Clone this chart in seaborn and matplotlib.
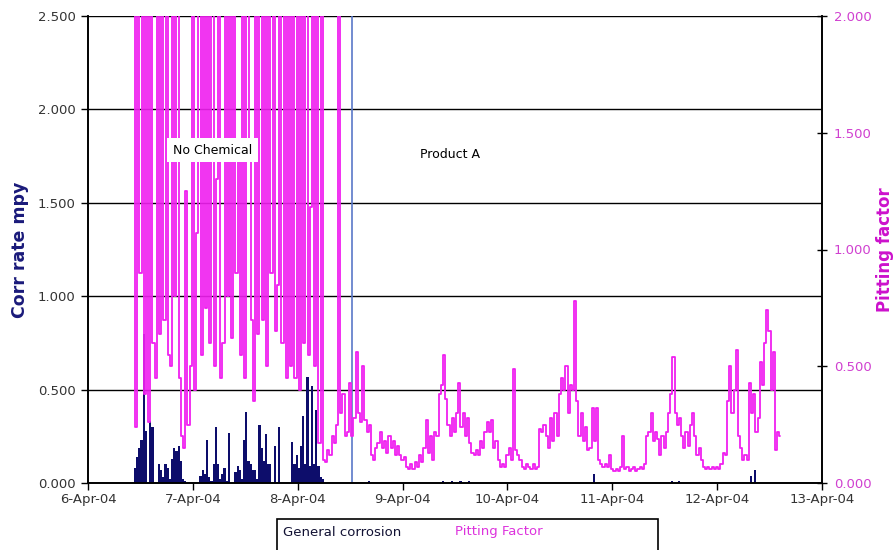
import pandas as pd
import seaborn as sns
import matplotlib.pyplot as plt
import matplotlib.dates as mdates
from matplotlib.patches import Rectangle

# Pitting factor, one reading every 30 min starting 6-Apr-04 10:30 (values > 2 run off the scale)
pit_apr6 = [2.6, 0.24, 2.6, 0.9, 2.6, 0.38, 2.6, 0.26, 2.6, 0.6, 0.45, 2.6, 0.64, 2.6,
            0.7, 2.6, 0.55, 0.5, 2.6, 0.8, 2.6, 0.45, 0.2, 0.15, 1.25, 0.25, 0.5]
pit_apr7 = [2.6, 0.4, 1.07, 2.6, 0.55, 2.6, 0.75, 2.6, 0.6, 2.6, 0.5, 1.3, 2.6, 0.45, 0.6, 2.6,
            0.8, 2.6, 0.62, 2.6, 0.9, 1.4, 0.55, 2.6, 0.45, 2.6, 1.47, 0.7, 0.35, 2.6, 0.64, 2.6,
            0.7, 2.6, 0.5, 2.6, 0.9, 2.6, 0.65, 0.85, 2.6, 0.6, 2.6, 0.45, 2.6, 0.5, 2.6, 0.45]
pit_apr8 = [2.6, 0.4, 2.6, 0.6, 2.6, 0.55, 1.18, 2.6, 0.5, 2.6, 0.17, 2.6, 0.1, 0.09, 0.14, 0.12,
            0.2, 0.17, 0.25, 2.6, 0.3, 0.38, 0.2, 0.22, 0.43, 0.2, 0.28, 0.56, 0.3, 0.26, 0.5, 0.27,
            0.22, 0.25, 0.12, 0.1, 0.15, 0.17, 0.22, 0.15, 0.18, 0.13, 0.2, 0.15, 0.18, 0.12, 0.16, 0.12]
pit_apr9 = [0.1, 0.11, 0.07, 0.06, 0.08, 0.06, 0.09, 0.07, 0.12, 0.09, 0.15, 0.27, 0.13, 0.2, 0.1, 0.22,
            0.2, 0.38, 0.42, 0.55, 0.36, 0.25, 0.2, 0.28, 0.22, 0.3, 0.43, 0.24, 0.3, 0.2, 0.28, 0.17,
            0.13, 0.12, 0.14, 0.12, 0.18, 0.15, 0.22, 0.26, 0.22, 0.27, 0.15, 0.18, 0.1, 0.07, 0.08, 0.07]
pit_apr10 = [0.12, 0.15, 0.1, 0.49, 0.14, 0.12, 0.1, 0.07, 0.06, 0.08, 0.07, 0.06, 0.08, 0.06, 0.07, 0.23,
             0.22, 0.25, 0.2, 0.15, 0.28, 0.18, 0.3, 0.2, 0.38, 0.45, 0.4, 0.5, 0.3, 0.42, 0.4, 0.78,
             0.35, 0.2, 0.3, 0.18, 0.24, 0.14, 0.15, 0.32, 0.18, 0.32, 0.1, 0.08, 0.07, 0.08, 0.07, 0.12]
pit_apr11 = [0.06, 0.05, 0.06, 0.05, 0.07, 0.2, 0.06, 0.07, 0.05, 0.06, 0.07, 0.05, 0.06, 0.07, 0.06, 0.08,
             0.2, 0.22, 0.3, 0.18, 0.22, 0.19, 0.12, 0.2, 0.15, 0.22, 0.3, 0.38, 0.54, 0.3, 0.25, 0.28,
             0.2, 0.15, 0.22, 0.16, 0.25, 0.3, 0.2, 0.12, 0.15, 0.1, 0.07, 0.06, 0.07, 0.06, 0.07, 0.06]
pit_apr12 = [0.07, 0.06, 0.08, 0.13, 0.12, 0.35, 0.5, 0.3, 0.4, 0.57, 0.2, 0.15, 0.1, 0.12, 0.1,
             0.43, 0.3, 0.38, 0.22, 0.28, 0.52, 0.42, 0.6, 0.74, 0.65, 0.4, 0.56, 0.14, 0.22, 0.2]

# General corrosion (mpy), same 30 min grid, only the untreated period has real readings
gc_apr6 = [0.08, 0.14, 0.19, 0.23, 0.8, 0.28, 0.0, 0.33, 0.3, 0.0, 0.0, 0.1, 0.07, 0.03,
           0.1, 0.08, 0.02, 0.13, 0.19, 0.17, 0.2, 0.12, 0.02, 0.01, 0.0, 0.0, 0.0]
gc_apr7 = [0.0, 0.0, 0.0, 0.04, 0.07, 0.05, 0.23, 0.03, 0.01, 0.1, 0.3, 0.1, 0.02, 0.05, 0.08, 0.01,
           0.27, 0.0, 0.0, 0.06, 0.09, 0.07, 0.02, 0.23, 0.38, 0.12, 0.1, 0.07, 0.07, 0.02, 0.31, 0.19,
           0.12, 0.26, 0.1, 0.1, 0.0, 0.2, 0.0, 0.3, 0.0, 0.0, 0.0, 0.0, 0.0, 0.22, 0.1, 0.15]
gc_apr8 = [0.08, 0.2, 0.36, 0.1, 0.57, 0.09, 0.52, 0.1, 0.39, 0.09, 0.03, 0.02]
gc_late_times = ['2004-04-08 16:00', '2004-04-09 09:00', '2004-04-09 11:00', '2004-04-09 13:00',
                 '2004-04-09 15:00', '2004-04-10 19:30', '2004-04-11 13:30', '2004-04-11 15:00',
                 '2004-04-12 07:30', '2004-04-12 08:30']
gc_late_vals = [0.01, 0.01, 0.01, 0.01, 0.01, 0.05, 0.01, 0.01, 0.04, 0.07]

pit_vals = pit_apr6 + pit_apr7 + pit_apr8 + pit_apr9 + pit_apr10 + pit_apr11 + pit_apr12
gc_vals = gc_apr6 + gc_apr7 + gc_apr8
start = pd.Timestamp('2004-04-06 10:30')
pit_times = pd.date_range(start, periods=len(pit_vals), freq='30min')
gc_times = pd.date_range(start, periods=len(gc_vals), freq='30min')

treatment_start = pd.Timestamp('2004-04-08 12:25')

navy = '#0d0d6b'
magenta = '#f020f0'

sns.set_style('white')
plt.rcParams['font.family'] = ['DejaVu Sans']

fig = plt.figure(figsize=(8.96, 5.5), dpi=100)
ax = fig.add_axes([88 / 896, 1 - 483 / 550, 734 / 896, 467 / 550])
ax2 = ax.twinx()

# general corrosion as thin columns
ax.bar(gc_times, gc_vals, width=1 / 48, align='edge', color=navy, linewidth=0)
ax.bar(pd.to_datetime(gc_late_times), gc_late_vals, width=1 / 48, align='edge', color=navy, linewidth=0)

# pitting factor on the right axis, stepped like the logger trace
sns.lineplot(x=pit_times, y=pit_vals, ax=ax2, color=magenta, linewidth=1.3, estimator=None,
             drawstyle='steps-mid')

ax.axvline(treatment_start, color='#5a78c8', linewidth=1.2)

ax.set_xlim(pd.Timestamp('2004-04-06'), pd.Timestamp('2004-04-13'))
ax.set_ylim(0, 2.5)
ax2.set_ylim(0, 2.0)

ax.set_yticks([0, 0.5, 1.0, 1.5, 2.0, 2.5])
ax.yaxis.set_major_formatter(plt.FuncFormatter(lambda v, _: f'{v:.3f}'))
ax2.set_yticks([0, 0.5, 1.0, 1.5, 2.0])
ax2.yaxis.set_major_formatter(plt.FuncFormatter(lambda v, _: f'{v:.3f}'))

ax.xaxis.set_major_locator(mdates.DayLocator())
ax.xaxis.set_major_formatter(mdates.DateFormatter('%-d-%b-%y'))

ax.grid(axis='y', color='black', linewidth=1)
ax.grid(axis='x', visible=False)
ax2.grid(False)

for a in (ax, ax2):
    a.spines['top'].set_visible(False)
    for s in ('left', 'right', 'bottom'):
        a.spines[s].set_color('black')
        a.spines[s].set_linewidth(1.2)

ax.tick_params(axis='y', direction='out', length=5, width=1, color='black',
               labelsize=9.5, labelcolor='#333333', pad=4, left=True)
ax.tick_params(axis='x', direction='out', length=5, width=1, color='black',
               labelsize=9.5, labelcolor='#333333', pad=2, bottom=True)
ax2.tick_params(axis='y', direction='inout', length=7, width=1, color='black',
                labelsize=9.5, labelcolor='#d040d0', pad=5, right=True)

ax.set_xlabel('')
ax.set_ylabel('Corr rate mpy', color='#1a1a7a', fontsize=12.5, fontweight='bold', labelpad=6)
ax2.set_ylabel('Pitting factor', color='#cc11cc', fontsize=12, fontweight='bold', labelpad=3)

# labels sit on top of both series
ax2.text(pd.Timestamp('2004-04-07 04:30'), 1.78, 'No Chemical', transform=ax.transData,
         fontsize=9, color='black', ha='center', va='center', zorder=5,
         bbox=dict(facecolor='white', edgecolor='none', pad=4))
ax2.text(pd.Timestamp('2004-04-09 10:50'), 1.76, 'Product A', transform=ax.transData,
         fontsize=9, color='black', ha='center', va='center', zorder=5)

# legend box at the foot of the chart (cut by the figure edge as in the source)
fig.add_artist(Rectangle((277 / 896, -0.02), 381 / 896, 31 / 550 + 0.02,
                         transform=fig.transFigure, fill=False, edgecolor='black', linewidth=1.2))
fig.text(283 / 896, 1 - 532 / 550, 'General corrosion', fontsize=9.5, color='#111133', va='center')
fig.text(455 / 896, 1 - 532 / 550, 'Pitting Factor', fontsize=9.5, color='#dd33dd', va='center')

fig.savefig('out.png', dpi=100)
